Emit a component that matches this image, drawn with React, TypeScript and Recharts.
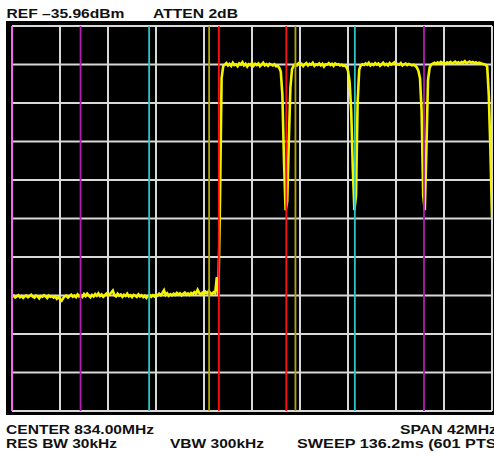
import { LineChart, Line, XAxis, YAxis, ReferenceLine } from "recharts";

// sweep setup
const START_MHZ = 813;
const STOP_MHZ = 855;
const STEP_MHZ = 0.14; // every 2nd of the 601 sweep points
const REF_DBM = -35.96;
const BOTTOM_DBM = -135.96;

// trace in dBm, piece by piece, left to right
const lowBand = [
  -106.3, -106.0, -106.5, -106.2, -105.9, -106.4, -106.1, -106.6, -106.2, -106.0,
  -106.4, -106.1, -105.8, -106.3, -106.5, -106.0, -106.2, -106.7, -106.1, -106.3,
  -105.9, -106.2, -106.6, -106.0, -106.3, -106.1, -106.5, -106.2, -106.8, -106.4,
  -106.9, -107.3, -106.6, -106.2, -106.0, -106.5, -106.1, -105.8, -106.3, -106.0,
  -106.4, -105.7, -106.2, -105.9, -106.3, -105.6, -106.1, -105.5, -106.0, -106.4,
  -105.8, -106.2, -105.6, -106.0, -105.4, -106.1, -105.7, -106.3, -105.9, -105.5,
  -106.0, -105.6, -105.2, -104.7, -105.9, -106.2, -105.5, -106.0, -105.7, -106.3,
  -105.8, -106.1, -105.5, -106.2, -105.9, -106.4, -105.8, -106.0, -106.3, -105.7,
  -106.2, -105.9, -106.4, -106.0, -106.6, -106.1, -105.8, -106.3, -105.9, -106.2,
  -105.7, -106.0, -105.5, -105.9, -105.3, -104.6, -105.8, -105.4, -106.0, -105.6,
  -105.9, -105.5, -105.8, -105.3, -105.7, -105.4, -105.9, -105.5, -105.2, -105.7,
  -105.4, -105.8, -105.3, -105.6, -105.1, -105.5, -104.5, -105.3, -105.7, -105.2,
  -105.6, -105.0, -105.4, -104.8, -105.3, -105.6, -105.1, -105.4, -101.2, -105.8,
];
const riseEdge = [-81.0, -49.5, -46.4];
const band1 = [
  -46.0, -45.6, -46.2, -45.8, -46.3, -45.5, -46.1, -45.9, -46.4, -45.7,
  -46.0, -45.4, -46.2, -45.8, -46.5, -45.9, -46.1, -45.6, -46.3, -45.8,
  -46.1, -45.7, -46.4, -46.0, -45.5, -46.2, -45.9, -46.3, -45.8, -46.0,
  -46.2, -45.9, -46.4,
];
const dip1 = [-46.3, -46.8, -47.8, -54.0, -71.0, -83.8, -81.5, -66.0, -52.0, -47.2, -46.3];
const band2 = [
  -45.9, -46.2, -45.7, -46.1, -45.8, -46.4, -45.9, -45.6, -46.2, -45.8,
  -46.0, -45.5, -46.3, -45.9, -46.1, -45.7, -46.2, -45.8, -46.5, -45.9,
  -46.0, -45.6, -46.1, -45.8, -46.3, -45.7, -46.0, -45.9, -46.2, -46.0, -46.3,
];
const dip2 = [-46.2, -46.6, -47.6, -50.5, -58.0, -73.0, -83.8, -80.0, -56.0, -47.3, -46.2];
const band3 = [
  -45.9, -46.1, -45.7, -46.0, -45.5, -46.2, -45.8, -46.1, -45.6, -46.0,
  -45.7, -46.3, -45.9, -45.5, -46.1, -45.8, -46.2, -45.6, -46.0, -45.7,
  -45.4, -46.1, -45.8, -46.0, -45.6, -46.2, -45.9, -45.7, -46.1, -45.8,
  -46.0, -46.2, -46.0,
];
const dip3 = [-46.3, -46.7, -47.6, -49.5, -58.0, -80.0, -83.8, -68.0, -50.0, -46.8, -46.0];
const band4 = [
  -45.7, -45.5, -45.8, -45.4, -45.7, -45.3, -45.6, -45.5, -45.8, -45.4,
  -45.6, -45.3, -45.7, -45.5, -45.2, -45.6, -45.4, -45.7, -45.3, -45.5,
  -45.1, -45.6, -45.4, -45.2, -45.5, -45.3, -45.6, -45.4, -45.7, -45.5,
  -45.6, -45.8, -45.9, -46.0,
];
const fallEdge = [-46.5, -53.9, -68.2, -85.6];

// graticule: 10 x 10 divisions
const freqTicks = [813, 817.2, 821.4, 825.6, 829.8, 834, 838.2, 842.4, 846.6, 850.8, 855];
const levelTicks = [-35.96, -45.96, -55.96, -65.96, -75.96, -85.96, -95.96, -105.96, -115.96, -125.96, -135.96];

// band-edge markers (MHz)
const markers = [
  { freq: 813, color: "#f060f0" },
  { freq: 819, color: "#b21cb2" },
  { freq: 825, color: "#2cc4c4" },
  { freq: 830.25, color: "#b4a400" },
  { freq: 831.1, color: "#ff1010" },
  { freq: 837, color: "#ff1010" },
  { freq: 837.8, color: "#b4a400" },
  { freq: 843, color: "#2cc4c4" },
  { freq: 849.05, color: "#b21cb2" },
];

// screen annotations: text, left x, baseline y, drawn width
const annotations = [
  { text: "REF –35.96dBm", x: 6.5, y: 17.5, w: 118 },
  { text: "ATTEN 2dB", x: 153, y: 17.5, w: 85 },
  { text: "CENTER 834.00MHz", x: 6, y: 433.5, w: 148 },
  { text: "SPAN 42MHz", x: 400, y: 433.5, w: 97 },
  { text: "RES BW 30kHz", x: 6, y: 448, w: 111 },
  { text: "VBW 300kHz", x: 170, y: 448, w: 94 },
  { text: "SWEEP 136.2ms (601 PTS)", x: 297, y: 448, w: 205 },
];

const trace = [...lowBand, ...riseEdge, ...band1, ...dip1, ...band2, ...dip2, ...band3, ...dip3, ...band4, ...fallEdge];
const data = trace.map((dbm, i) => ({ freq: +(START_MHZ + i * STEP_MHZ).toFixed(2), dbm }));

export default function App() {
  return (
    <div style={{ position: "absolute", left: 0, top: 0, width: 494, height: 456, background: "#fff", overflow: "hidden" }}>
      <div style={{ position: "absolute", left: 6, top: 21, width: 488, height: 394, background: "#000" }}>
        <LineChart width={488} height={394} data={data} margin={{ top: 5, right: 2, bottom: 4, left: 6 }}>
          <XAxis type="number" dataKey="freq" domain={[START_MHZ, STOP_MHZ]} hide allowDataOverflow />
          <YAxis type="number" domain={[BOTTOM_DBM, REF_DBM]} hide allowDataOverflow />
          {freqTicks.map((f) => (
            <ReferenceLine key={`gx-${f}`} x={f} stroke="#d8d8d8" strokeWidth={2} zIndex={300} />
          ))}
          {levelTicks.map((l) => (
            <ReferenceLine key={`gy-${l}`} y={l} stroke="#d8d8d8" strokeWidth={2} zIndex={300} />
          ))}
          <Line
            type="linear"
            dataKey="dbm"
            stroke="#f4f400"
            strokeWidth={2.6}
            dot={false}
            isAnimationActive={false}
            zIndex={400}
          />
          {markers.map((m) => (
            <ReferenceLine key={`m-${m.freq}`} x={m.freq} stroke={m.color} strokeWidth={1.8} zIndex={500} />
          ))}
        </LineChart>
      </div>

      <svg width={494} height={456} style={{ position: "absolute", left: 0, top: 0, pointerEvents: "none" }}>
        {annotations.map((a) => (
          <text
            key={a.text}
            x={a.x}
            y={a.y}
            textLength={a.w}
            lengthAdjust="spacingAndGlyphs"
            fontFamily="'Liberation Sans', Arial, sans-serif"
            fontWeight={700}
            fontSize={13}
            fill="#111"
          >
            {a.text}
          </text>
        ))}
      </svg>
    </div>
  );
}
